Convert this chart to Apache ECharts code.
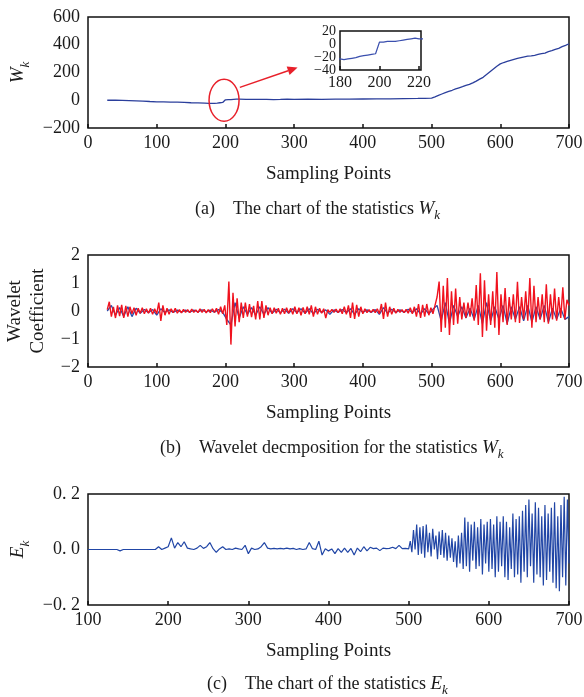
<!DOCTYPE html>
<html>
<head>
<meta charset="utf-8">
<script src="https://cdn.jsdelivr.net/npm/echarts@6/dist/echarts.min.js"></script>
<style>
html,body{margin:0;padding:0;background:#fff;}
#c{width:584px;height:697px;}
</style>
</head>
<body>
<div id="c"></div>
<script>
// ---------- (a) statistic W_k ----------
const W_X = [28,40,50,60,70,80,90,100,110,120,
  130,140,150,160,170,176,180,182,184,186,
  188,190,192,194,196,198,199,200,202,204,
  206,208,210,212,214,216,218,220,230,240,
  250,260,270,280,290,300,320,340,360,380,
  400,420,440,460,480,490,500,505,510,515,
  520,525,530,535,540,545,550,555,560,565,
  570,575,580,585,590,595,600,605,610,615,
  620,625,630,635,640,645,650,655,660,665,
  670,675,680,685,690,695,700];
const W_Y = [0,0,-1,-2,-4,-6,-9,-11,-12,-13,
  -14,-15,-18,-19,-20,-22,-23,-24,-23,-22,
  -21,-19,-18,-17,-16,-15,-15,3,3,4,
  4,4,5,6,7,8,9,8,7,6,
  7,6,5,6,8,7,8,7,8,8,
  9,10,10,12,13,14,16,25,35,45,
  55,64,72,82,90,98,107,115,125,138,
  152,165,185,205,225,245,262,272,280,288,
  295,302,308,313,318,320,324,330,336,340,
  350,357,366,374,386,396,407];
const INSET_Y_TICKS = [20, 0, -20, -40];

// ---------- (b) wavelet coefficients ----------
const WAVE_START = 28;
const RED_STEP = 3;
const WAVE_RED = [
  0.05,0.33,-0.2,0.15,-0.25,0.2,-0.18,0.22,-0.25,0.18,
  -0.2,0.15,-0.1,0.12,-0.15,0.1,-0.08,0.12,-0.1,0.08,
  -0.08,0.1,-0.12,0.08,-0.1,0.3,-0.35,0.2,-0.15,0.1,
  -0.12,0.08,-0.06,0.1,-0.08,0.05,-0.07,0.06,-0.05,0.05,
  -0.06,0.07,-0.05,0.04,-0.06,0.08,-0.05,0.06,-0.07,0.05,
  -0.06,0.08,-0.05,0.1,-0.12,0.15,-0.1,0.2,-0.5,1.05,
  -1.2,0.65,-0.55,0.45,-0.4,0.3,-0.25,0.3,-0.2,0.25,
  -0.22,0.18,-0.3,0.35,-0.3,0.35,-0.25,0.2,-0.15,0.12,
  -0.1,0.12,-0.08,0.1,-0.12,0.1,-0.1,0.12,-0.08,0.1,
  -0.12,0.15,-0.1,0.12,-0.15,0.13,-0.1,0.15,-0.12,0.2,
  -0.2,0.15,-0.12,0.1,-0.08,0.08,-0.25,0.05,-0.05,0.06,
  -0.05,0.07,-0.06,0.08,-0.1,0.15,-0.12,0.2,-0.25,0.3,
  -0.28,0.22,-0.2,0.15,-0.1,0.08,-0.06,0.05,-0.05,0.06,
  -0.06,0.08,-0.1,0.25,-0.28,0.3,-0.2,0.15,-0.12,0.1,
  -0.08,0.06,-0.05,0.05,-0.06,0.06,-0.08,0.12,-0.1,0.15,
  -0.2,0.25,-0.25,0.22,-0.2,0.25,-0.15,0.12,-0.1,0.2,
  0.5,1.05,-0.75,0.9,-0.6,1.18,-0.86,0.7,-0.5,0.8,
  -0.45,0.5,-0.3,0.3,-0.25,0.3,-0.2,0.45,-0.35,0.93,
  -0.5,1.35,-0.93,1.1,-0.7,0.6,-0.5,0.7,-0.6,1.39,
  -0.86,0.6,-0.4,0.82,-0.5,0.5,-0.3,0.6,-0.4,1.04,
  -0.43,0.5,-0.3,0.7,-0.35,1.18,-0.6,0.9,-0.4,0.5,
  -0.3,0.6,-0.4,0.95,-0.45,0.6,-0.3,0.8,-0.35,0.5,
  -0.25,0.85,-0.3,0.4,0.2];
const BLUE_STEP = 6;
const WAVE_BLUE = [
  0.0,0.2,-0.15,0.12,-0.2,0.15,-0.2,0.1,-0.08,0.05,
  -0.06,0.05,-0.15,0.08,-0.05,0.04,-0.05,0.03,-0.04,0.03,
  -0.04,0.03,-0.03,0.04,-0.03,0.03,-0.04,0.05,-0.05,-0.3,
  -0.5,0.3,-0.25,0.15,-0.12,0.12,-0.15,0.15,-0.12,0.12,
  -0.08,0.06,-0.06,0.06,-0.08,0.08,-0.06,0.08,-0.08,0.08,
  -0.1,0.06,-0.05,0.04,-0.12,0.04,-0.05,0.05,-0.06,0.08,
  -0.12,0.08,-0.05,0.04,-0.05,0.05,-0.12,0.12,-0.08,0.06,
  -0.05,0.04,-0.05,0.06,-0.06,0.08,-0.1,0.08,-0.1,0.06,
  0.2,-0.35,0.3,-0.45,0.2,-0.2,0.15,-0.25,0.1,-0.3,
  0.2,-0.45,0.3,-0.35,0.15,-0.3,0.2,-0.45,0.15,-0.3,
  0.15,-0.35,0.2,-0.4,0.15,-0.3,0.2,-0.4,0.1,-0.3,
  0.1,-0.3,-0.2];

// ---------- (c) statistic E_k ----------
const E_QUIET_START = 100, E_QUIET_STEP = 4;
const E_QUIET = [
  0,0,0,0,0,0,0,0,0,0,
  -0.005,0,0,0,0,0,0,0,0,0,
  0,0,0.01,0,0.005,0.01,0.042,0.005,0.025,0.01,
  0.028,0.005,0.002,0,0.005,0.015,0.004,0.01,0.025,0.003,
  -0.01,0.002,0.01,0,0.002,0,0.005,0.002,0,0.015,
  -0.015,0.005,0,0.002,0.01,0.025,0.005,0.002,0.004,0.002,
  0.004,0.002,0.005,0.002,0.004,0,0.003,0,0.002,0.025,
  0.003,0,0.03,-0.02,0.003,-0.005,0.002,-0.015,0.003,-0.01,
  0.005,-0.01,0.004,-0.02,0.005,-0.008,0.01,-0.005,0.008,0.003,
  0.005,-0.004,0.005,0.003,0.004,0.008,0.003,0.015,0.003,0.004,
  0.002];
const E_LOUD_START = 502, E_LOUD_STEP = 2;
const E_LOUD = [
  0.03,-0.01,0.07,0.0,0.09,-0.02,0.08,-0.015,0.085,-0.03,
  0.09,-0.01,0.06,-0.025,0.075,0.0,0.05,-0.035,0.065,-0.02,
  0.07,-0.03,0.06,-0.04,0.05,-0.03,0.04,-0.045,0.03,-0.065,
  0.05,-0.05,0.06,-0.07,0.115,-0.06,0.1,-0.08,0.09,-0.04,
  0.1,-0.07,0.08,-0.06,0.11,-0.09,0.09,-0.05,0.1,-0.08,
  0.11,-0.07,0.09,-0.1,0.12,-0.08,0.1,-0.06,0.12,-0.1,
  0.1,-0.11,0.08,-0.07,0.13,-0.1,0.11,-0.09,0.12,-0.12,
  0.14,-0.08,0.16,-0.1,0.18,-0.06,0.13,-0.12,0.17,-0.09,
  0.15,-0.1,0.12,-0.13,0.16,-0.11,0.13,-0.08,0.15,-0.12,
  0.17,-0.14,0.12,-0.15,0.16,-0.1,0.19,-0.13,0.18,-0.05];

// ---------- build ----------
const wData = W_X.map((x,i)=>[x, W_Y[i]]);
const redData = WAVE_RED.map((v,i)=>[WAVE_START + RED_STEP*i, v]);
const blueData = WAVE_BLUE.map((v,i)=>[WAVE_START + BLUE_STEP*i, v]);
const eData = E_QUIET.map((v,i)=>[E_QUIET_START + E_QUIET_STEP*i, v])
  .concat(E_LOUD.map((v,i)=>[E_LOUD_START + E_LOUD_STEP*i, v]));

const SERIF = 'Liberation Serif';
const TXT = '#1a1a1a';
const minus = v => String(v).replace('-', '\u2212');
const ekFmt = v => (v < 0 ? '\u2212' : '') + Math.abs(v).toFixed(1).replace('.', '. ');

const richSub = {
  n: {fontFamily: SERIF, fontSize: 18, fontWeight: 'normal', color: TXT, lineHeight: 24, verticalAlign: 'bottom'},
  i: {fontFamily: SERIF, fontSize: 19, fontWeight: 'normal', fontStyle: 'italic', color: TXT, lineHeight: 24, verticalAlign: 'bottom'},
  s: {fontFamily: SERIF, fontSize: 13, fontWeight: 'normal', fontStyle: 'italic', color: TXT, lineHeight: 18, verticalAlign: 'bottom', padding: [0,0,-4,0]}
};

function xAx(grid, min, max, interval, fs, named) {
  return {
    type: 'value', gridIndex: grid, min: min, max: max, interval: interval,
    axisLine: {show: false, onZero: false},
    axisTick: {show: true, inside: true, length: 4, lineStyle: {color: '#111', width: 1.5}},
    axisLabel: {fontFamily: SERIF, fontSize: fs, color: TXT, margin: 6, formatter: minus},
    splitLine: {show: false},
    name: named ? 'Sampling Points' : '',
    nameLocation: 'middle', nameGap: 37,
    nameTextStyle: {fontFamily: SERIF, fontSize: 19, color: TXT}
  };
}
function yAx(grid, min, max, interval, fs, name, gap, fmt) {
  return {
    type: 'value', gridIndex: grid, min: min, max: max, interval: interval,
    axisLine: {show: false, onZero: false},
    axisTick: {show: false},
    axisLabel: {fontFamily: SERIF, fontSize: fs, color: TXT, margin: 8, formatter: fmt || minus},
    splitLine: {show: false},
    name: name, nameLocation: 'middle', nameRotate: 90, nameGap: gap,
    nameTextStyle: {fontFamily: SERIF, fontSize: 19, color: TXT, lineHeight: 23, rich: richSub}
  };
}
const gridBox = {show: true, borderColor: '#111', borderWidth: 1.5, backgroundColor: 'transparent', containLabel: false, outerBoundsMode: 'none'};

const chart = echarts.init(document.getElementById('c'), null, {renderer: 'canvas'});
const option = {
  animation: false,
  backgroundColor: '#fff',
  grid: [
    Object.assign({left: 88, top: 17, width: 481, height: 111}, gridBox),
    Object.assign({left: 340, top: 31, width: 81, height: 39, z: 5}, gridBox),
    Object.assign({left: 88, top: 255, width: 481, height: 112}, gridBox),
    Object.assign({left: 88, top: 494, width: 481, height: 111}, gridBox)
  ],
  xAxis: [
    xAx(0, 0, 700, 100, 18, true),
    Object.assign(xAx(1, 180, 221, 20, 16, false), {axisLabel: {fontFamily: SERIF, fontSize: 16, color: TXT, margin: 5, formatter: minus, showMaxLabel: false}}),
    xAx(2, 0, 700, 100, 18, true),
    xAx(3, 100, 700, 100, 18, true)
  ],
  yAxis: [
    yAx(0, -200, 600, 200, 18, '{i|W}{s|k}', 58),
    Object.assign(yAx(1, -40, 20, 20, 14, '', 10), {axisLabel: {show: false}}),
    yAx(2, -2, 2, 1, 18, 'Wavelet\nCoefficient', 35),
    yAx(3, -0.2, 0.2, 0.2, 18, '{i|E}{s|k}', 58, ekFmt)
  ],
  title: [
    {left: 190, top: 189, text: '{n|(a)\u2002\u2002The chart of the statistics }{i|W}{s|k}', textStyle: {fontWeight: 'normal', rich: richSub}},
    {left: 155, top: 428, text: '{n|(b)\u2002\u2002Wavelet decmposition for the statistics }{i|W}{s|k}', textStyle: {fontWeight: 'normal', rich: richSub}},
    {left: 202, top: 664, text: '{n|(c)\u2002\u2002The chart of the statistics }{i|E}{s|k}', textStyle: {fontWeight: 'normal', rich: richSub}}
  ],
  series: [
    {type: 'line', xAxisIndex: 0, yAxisIndex: 0, data: wData, showSymbol: false, lineStyle: {color: '#2b3f9c', width: 1.3}, z: 2},
    {type: 'line', xAxisIndex: 1, yAxisIndex: 1, data: wData, showSymbol: false, clip: true, lineStyle: {color: '#3a4fae', width: 1.2}, z: 6},
    {type: 'line', xAxisIndex: 2, yAxisIndex: 2, data: blueData, showSymbol: false, lineStyle: {color: '#2a48a8', width: 1.3}, z: 2},
    {type: 'line', xAxisIndex: 2, yAxisIndex: 2, data: redData, showSymbol: false, lineStyle: {color: '#f0121e', width: 1.4}, z: 3},
    {type: 'line', xAxisIndex: 3, yAxisIndex: 3, data: eData, showSymbol: false, lineStyle: {color: '#2146a6', width: 1.2}, z: 2}
  ]
};
chart.setOption(option);

// inset y tick labels (placed through the inset's own scale)
const insetLabels = INSET_Y_TICKS.map(v => {
  const p = chart.convertToPixel({gridIndex: 1}, [180, v]);
  return {type: 'text', x: p[0] - 4, y: p[1], z: 10,
    style: {text: minus(v), font: '14px "Liberation Serif"', fill: TXT, align: 'right', verticalAlign: 'middle'}};
});

// red ellipse + arrow annotation (placed in data coordinates of panel a)
const c0 = chart.convertToPixel({gridIndex: 0}, [198, 0]);
const p1 = chart.convertToPixel({gridIndex: 0}, [221, 93]);
const p2 = chart.convertToPixel({gridIndex: 0}, [305, 236]);
const ang = Math.atan2(p2[1]-p1[1], p2[0]-p1[0]);
const hl = 10, hw = 4.5;
const base = [p2[0] - hl*Math.cos(ang), p2[1] - hl*Math.sin(ang)];
const head = [
  p2,
  [base[0] + hw*Math.sin(ang), base[1] - hw*Math.cos(ang)],
  [base[0] - hw*Math.sin(ang), base[1] + hw*Math.cos(ang)]
];
chart.setOption({
  graphic: [
    {type: 'ellipse', shape: {cx: c0[0], cy: c0[1], rx: 15, ry: 21}, style: {fill: 'none', stroke: '#e8202a', lineWidth: 1.5}, z: 10},
    {type: 'line', shape: {x1: p1[0], y1: p1[1], x2: base[0], y2: base[1]}, style: {stroke: '#e8202a', lineWidth: 1.5}, z: 10},
    {type: 'polygon', shape: {points: head}, style: {fill: '#e8202a'}, z: 10}
  ].concat(insetLabels)
});
</script>
</body>
</html>
